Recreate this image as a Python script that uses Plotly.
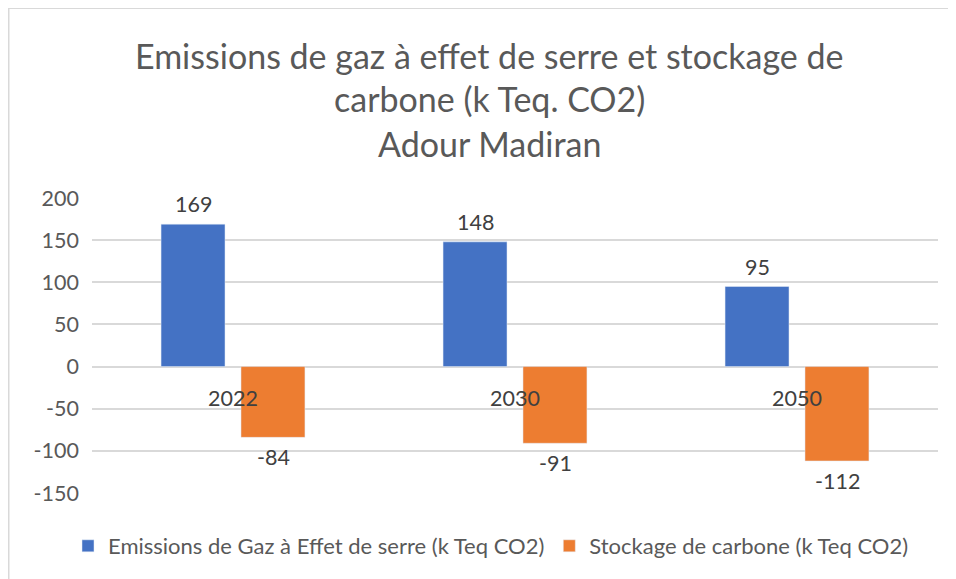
import plotly.graph_objects as go

categories = ["2022", "2030", "2050"]
emissions = [169, 148, 95]
stockage = [-84, -91, -112]
series_names = ["Emissions de Gaz à Effet de serre (k Teq CO2)", "Stockage de carbone (k Teq CO2)"]
title_lines = ["Emissions de gaz à effet de serre et stockage de", "carbone (k Teq. CO2)", "Adour Madiran"]
tick_vals = [-150, -100, -50, 0, 50, 100, 150, 200]
tick_labels = ["-150", "-100", "-50", "0", "50", "100", "150", "200"]

FONT = "Lato"
TXT = "#595959"
DARK = "#404040"
FS = 21.5

# page has an 8px body margin: figure origin is at page (8, 8)
OFF = 8
W, H = 956 - OFF, 579 - OFF
# plot area in page pixels: x 92..938, y 198..493
PL, PR, PT, PB = 92, 938, 198, 493
L, R, T, B = PL - OFF, W - (PR - OFF), PT - OFF, H - (PB - OFF)
pw, ph = W - L - R, H - T - B

def py(p):
    return (PB - p) / ph

def px(p):
    return (p - PL) / pw

fig = go.Figure()
fig.add_trace(go.Bar(x=categories, y=emissions, name=series_names[0], marker_color="#4472C4"))
fig.add_trace(go.Bar(x=categories, y=stockage, name=series_names[1], marker_color="#ED7D31"))

annotations = []
for line, yc in zip(title_lines, [55, 99, 143]):
    annotations.append(dict(text=line, xref="paper", yref="paper", x=px(489), y=py(yc),
                            xanchor="center", yanchor="middle", showarrow=False,
                            font=dict(size=34, color=TXT, family=FONT)))
for i, c in enumerate(categories):
    annotations.append(dict(text=c, xref="x", yref="y", x=i, y=0, yshift=-31,
                            xanchor="center", yanchor="middle", showarrow=False,
                            font=dict(size=FS, color=DARK, family=FONT)))
    annotations.append(dict(text=str(emissions[i]), xref="x", yref="y", x=i, y=emissions[i],
                            xshift=-40, yshift=20, xanchor="center", yanchor="middle",
                            showarrow=False, font=dict(size=FS, color=DARK, family=FONT)))
    annotations.append(dict(text=str(stockage[i]), xref="x", yref="y", x=i, y=stockage[i],
                            xshift=40, yshift=-20, xanchor="center", yanchor="middle",
                            showarrow=False, font=dict(size=FS, color=DARK, family=FONT)))

fig.update_layout(
    width=W, height=H,
    margin=dict(l=L, r=R, t=T, b=B),
    paper_bgcolor="white", plot_bgcolor="white",
    barmode="group", bargap=0.433, bargroupgap=0.2,
    font=dict(family=FONT, color=TXT, size=FS),
    showlegend=True,
    legend=dict(orientation="h", x=0.5 - 24 / pw, xanchor="center", y=py(546), yanchor="middle",
                font=dict(size=22, color=TXT, family=FONT), itemwidth=30,
                bgcolor="rgba(0,0,0,0)"),
    annotations=annotations,
    shapes=[
        dict(type="line", xref="paper", yref="paper", x0=px(7), x1=1.2, y0=py(8), y1=py(8),
             line=dict(color="#D9D9D9", width=2)),
        dict(type="line", xref="paper", yref="paper", x0=px(8.5), x1=px(8.5), y0=py(7), y1=-0.5,
             line=dict(color="#D9D9D9", width=2)),
    ],
)
fig.update_xaxes(type="category", range=[-0.5, len(categories) - 0.5], showticklabels=False,
                 showgrid=False, zeroline=False, showline=False, ticks="")
fig.update_yaxes(range=[-150, 200], tickvals=tick_vals, ticktext=tick_labels, showgrid=True,
                 gridcolor="#D9D9D9", gridwidth=2,
                 zeroline=True, zerolinecolor="#D9D9D9", zerolinewidth=2, showline=False, ticks="",
                 tickfont=dict(size=FS, color=TXT, family=FONT), ticklabelstandoff=12)

fig.write_html("out.html")
